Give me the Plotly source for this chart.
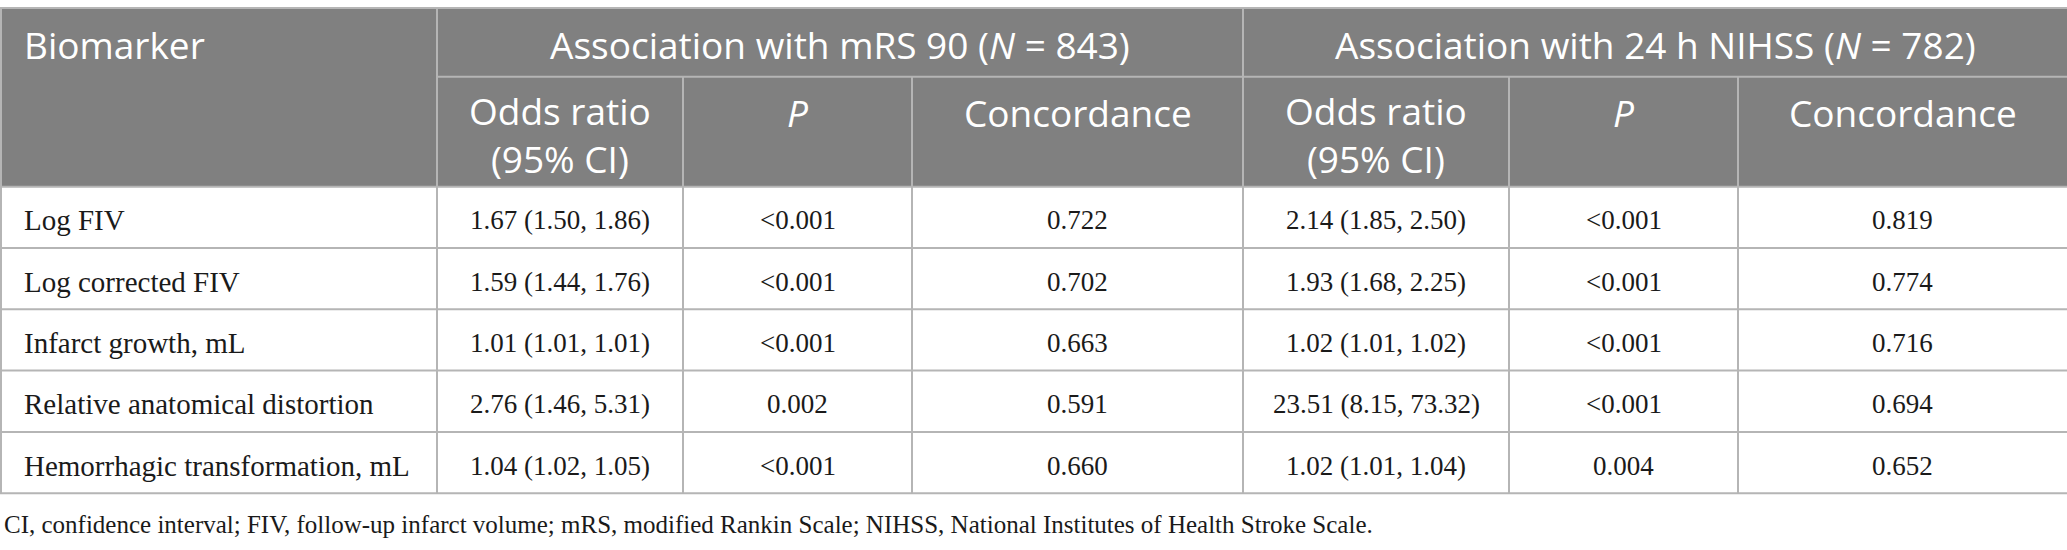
import plotly.graph_objects as go

# table content
biomarkers = [
    "Log FIV",
    "Log corrected FIV",
    "Infarct growth, mL",
    "Relative anatomical distortion",
    "Hemorrhagic transformation, mL",
]
mrs_or = ["1.67 (1.50, 1.86)", "1.59 (1.44, 1.76)", "1.01 (1.01, 1.01)",
          "2.76 (1.46, 5.31)", "1.04 (1.02, 1.05)"]
mrs_p = ["<0.001", "<0.001", "<0.001", "0.002", "<0.001"]
mrs_conc = ["0.722", "0.702", "0.663", "0.591", "0.660"]
nihss_or = ["2.14 (1.85, 2.50)", "1.93 (1.68, 2.25)", "1.02 (1.01, 1.02)",
            "23.51 (8.15, 73.32)", "1.02 (1.01, 1.04)"]
nihss_p = ["<0.001", "<0.001", "<0.001", "<0.001", "0.004"]
nihss_conc = ["0.819", "0.774", "0.716", "0.694", "0.652"]

group_labels = ["Association with mRS 90 (<i>N</i> = 843)",
                "Association with 24 h NIHSS (<i>N</i> = 782)"]
sub_labels = ["Odds ratio<br>(95% CI)", "<i>P</i>", "Concordance"] * 2
first_label = "Biomarker"
footnote = ("CI, confidence interval; FIV, follow-up infarct volume; mRS, modified "
            "Rankin Scale; NIHSS, National Institutes of Health Stroke Scale.")

# layout, in pixels
W, H = 2067, 550
col_edges = [0, 437, 683, 912, 1243, 1509, 1738, W]
TOP, MID, HEAD_BOTTOM = 8, 76.7, 186.7
ROW_H = 61.3
HEADER_BG = "#808080"
BORDER = "#b5b5b5"
HEAD_FONT = dict(family="Open Sans", size=37, color="white")
LABEL_FONT = dict(family="Liberation Serif", size=29, color="#1a1a1a")
NUM_FONT = dict(family="Liberation Serif", size=27, color="#1a1a1a")
NOTE_FONT = dict(family="Liberation Serif", size=25, color="#1a1a1a")

columns = [mrs_or, mrs_p, mrs_conc, nihss_or, nihss_p, nihss_conc]
n_rows = len(biomarkers)
row_edges = [HEAD_BOTTOM + i * ROW_H for i in range(n_rows + 1)]
bottom = row_edges[-1]

fig = go.Figure()
shapes = []
annotations = []


def hline(y, x0, x1):
    shapes.append(dict(type="line", x0=x0, x1=x1, y0=y, y1=y,
                       line=dict(color=BORDER, width=2)))


def vline(x, y0, y1):
    shapes.append(dict(type="line", x0=x, x1=x, y0=y0, y1=y1,
                       line=dict(color=BORDER, width=2)))


def label(text, x, y, font, xanchor="center"):
    annotations.append(dict(text=text, x=x, y=y, xref="x", yref="y",
                            xanchor=xanchor, yanchor="middle",
                            showarrow=False, font=font))


# header background
shapes.append(dict(type="rect", x0=0, x1=W, y0=TOP, y1=HEAD_BOTTOM,
                   fillcolor=HEADER_BG, line=dict(width=0), layer="below"))

# borders
hline(TOP, 0, W)
hline(MID, col_edges[1], W)
for y in row_edges:
    hline(y, 0, W)
vline(1, TOP, bottom)
vline(col_edges[1], TOP, bottom)
vline(col_edges[4], TOP, bottom)
for i in (2, 3, 5, 6):
    vline(col_edges[i], MID, bottom)

# header text
label(first_label, 22, 44, HEAD_FONT, xanchor="left")
label(group_labels[0], (col_edges[1] + col_edges[4]) / 2, 44, HEAD_FONT)
label(group_labels[1], (col_edges[4] + col_edges[7]) / 2, 44, HEAD_FONT)
for i, text in enumerate(sub_labels):
    cx = (col_edges[i + 1] + col_edges[i + 2]) / 2
    cy = 134 if "<br>" in text else 112
    label(text, cx, cy, HEAD_FONT)

# body
for r in range(n_rows):
    cy = (row_edges[r] + row_edges[r + 1]) / 2 + 3
    label(biomarkers[r], 22, cy, LABEL_FONT, xanchor="left")
    for c, col in enumerate(columns):
        cx = (col_edges[c + 1] + col_edges[c + 2]) / 2
        label(col[r], cx, cy, NUM_FONT)

label(footnote, 2, 524, NOTE_FONT, xanchor="left")

fig.update_layout(
    width=W, height=H,
    margin=dict(l=0, r=0, t=0, b=0),
    paper_bgcolor="white", plot_bgcolor="white",
    shapes=shapes, annotations=annotations,
    showlegend=False,
)
fig.update_xaxes(range=[0, W], visible=False, fixedrange=True)
fig.update_yaxes(range=[H, 0], visible=False, fixedrange=True)

# drop the page's default body margin so the table starts at the window edge
fig.write_html("out.html", config={"displayModeBar": False},
               post_script="document.body.style.margin='0';")
